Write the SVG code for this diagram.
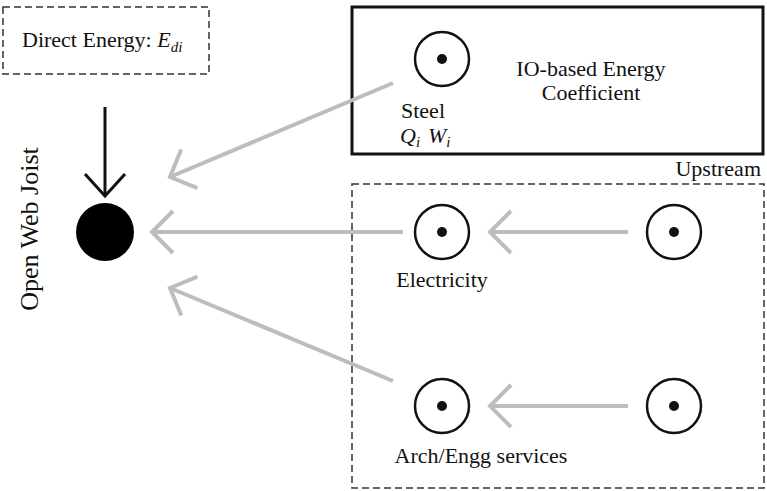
<svg xmlns="http://www.w3.org/2000/svg" width="767" height="491" viewBox="0 0 767 491">
<style>
text{font-family:"Liberation Serif","Times New Roman",serif;font-size:22px;fill:#111}
.it{font-style:italic}
.sub{font-size:15px}
.big{font-size:26px}
.dash{fill:none;stroke:#333;stroke-width:1.5;stroke-dasharray:7,4}
.node circle.o{fill:none;stroke:#111;stroke-width:2.5}
.node circle.d{fill:#111}
.g{stroke:#bdbdbd;stroke-width:4;fill:none}
</style>
<defs>
<marker id="chev" markerUnits="userSpaceOnUse" viewBox="-30 -30 60 60" markerWidth="60" markerHeight="60" refX="0" refY="0" orient="auto" overflow="visible">
<path d="M -21,-21 L 0,0 L -21,21" fill="none" stroke="#bdbdbd" stroke-width="4"/>
</marker>
</defs>
<rect x="0" y="0" width="767" height="491" fill="#fff"/>
<g id="direct-energy">
<rect class="dash" x="3" y="7" width="206" height="67"/>
<text x="22" y="47">Direct Energy: <tspan class="it">E</tspan><tspan class="it sub" dy="5">di</tspan></text>
</g>
<g id="io-box">
<rect x="352" y="7" width="411" height="147" fill="none" stroke="#111" stroke-width="3"/>
<text x="591" y="76" text-anchor="middle">IO-based Energy</text>
<text x="591" y="100" text-anchor="middle">Coefficient</text>
</g>
<g id="upstream">
<rect class="dash" x="352" y="184" width="412" height="304"/>
<text x="761" y="176" text-anchor="end">Upstream</text>
</g>
<g id="open-web-joist">
<circle cx="105" cy="232" r="29" fill="#000"/>
<text class="big" transform="translate(38,229) rotate(-90)" text-anchor="middle">Open Web Joist</text>
</g>
<g id="steel" class="node">
<circle class="o" cx="442" cy="59" r="27"/>
<circle class="d" cx="442" cy="59" r="5"/>
<text x="423" y="118" text-anchor="middle">Steel</text>
<text x="400" y="143" class="it">Q<tspan class="sub" dy="4">i</tspan></text>
<text x="428" y="143" class="it">W<tspan class="sub" dy="4">i</tspan></text>
</g>
<g id="electricity" class="node">
<circle class="o" cx="442" cy="232" r="27"/>
<circle class="d" cx="442" cy="232" r="5"/>
<text x="442" y="287" text-anchor="middle">Electricity</text>
</g>
<g id="electricity-upstream" class="node">
<circle class="o" cx="674" cy="232" r="27"/>
<circle class="d" cx="674" cy="232" r="5"/>
</g>
<g id="arch-engg" class="node">
<circle class="o" cx="442" cy="406" r="27"/>
<circle class="d" cx="442" cy="406" r="5"/>
<text x="481" y="463" text-anchor="middle">Arch/Engg services</text>
</g>
<g id="arch-engg-upstream" class="node">
<circle class="o" cx="674" cy="406" r="27"/>
<circle class="d" cx="674" cy="406" r="5"/>
</g>
<g id="connectors">
<line x1="105" y1="107" x2="105" y2="196" stroke="#111" stroke-width="3"/>
<path d="M 85,174 L 105,196 L 125,174" fill="none" stroke="#111" stroke-width="3"/>
<line class="g" x1="393" y1="83" x2="170" y2="177" marker-end="url(#chev)"/>
<line class="g" x1="403" y1="232" x2="152" y2="232" marker-end="url(#chev)"/>
<line class="g" x1="393" y1="381" x2="170" y2="288" marker-end="url(#chev)"/>
<line class="g" x1="628" y1="232" x2="490" y2="232" marker-end="url(#chev)"/>
<line class="g" x1="628" y1="406" x2="490" y2="406" marker-end="url(#chev)"/>
</g>
</svg>
